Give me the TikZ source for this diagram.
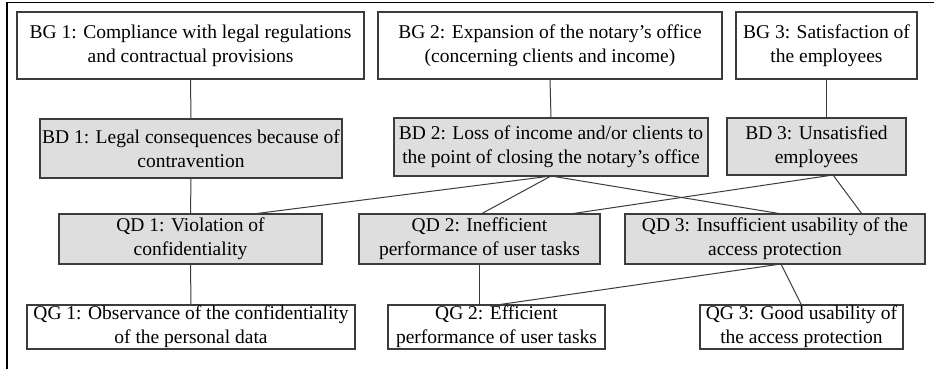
\documentclass[tikz,border=0pt]{standalone}
\usepackage{fontspec}
\setmainfont{Liberation Serif}
\usetikzlibrary{calc}
\definecolor{boxline}{HTML}{3C3C3C}
\definecolor{boxfill}{HTML}{DEDEDE}
\begin{document}
\begin{tikzpicture}[x=1pt,y=-1pt,
  every node/.style={inner sep=0pt,outer sep=0pt,align=center,
    font=\fontsize{19.5pt}{24pt}\selectfont},
  goal/.style={draw=boxline,line width=1.1pt,fill=white},
  damage/.style={draw=boxline,line width=1.1pt,fill=boxfill},
  link/.style={draw=boxline,line width=1pt}]
\useasboundingbox (0,0) rectangle (934,369);
\fill[white] (0,0) rectangle (934,369);
% frame
\draw[line width=1.2pt,black] (7,369) -- (7,2.5) -- (934,2.5);

% business goals
\node[goal,minimum width=347,minimum height=67] (bg1) at (190.5,45.5)
  {BG 1: Compliance with legal regulations\\and contractual provisions};
\node[goal,minimum width=344,minimum height=67] (bg2) at (550,45.5)
  {BG 2: Expansion of the notary’s office\\(concerning clients and income)};
\node[goal,minimum width=181,minimum height=67] (bg3) at (826.5,45.5)
  {BG 3: Satisfaction of\\the employees};

% business damages
\node[damage,minimum width=302,minimum height=59] (bd1) at (191,148.5)
  {BD 1: Legal consequences because of\\contravention};
\node[damage,minimum width=314,minimum height=58] (bd2) at (551,147)
  {BD 2: Loss of income and/or clients to\\the point of closing the notary’s office};
\node[damage,minimum width=179,minimum height=57] (bd3) at (816.5,146.5)
  {BD 3: Unsatisfied\\employees};

% quality damages
\node[damage,minimum width=263,minimum height=50] (qd1) at (190.5,239)
  {QD 1: Violation of\\confidentiality};
\node[damage,minimum width=241,minimum height=50] (qd2) at (479.5,239)
  {QD 2: Inefficient\\performance of user tasks};
\node[damage,minimum width=300,minimum height=50] (qd3) at (775,239)
  {QD 3: Insufficient usability of the\\access protection};

% quality goals
\node[goal,minimum width=328,minimum height=44] (qg1) at (191,327)
  {QG 1: Observance of the confidentiality\\of the personal data};
\node[goal,minimum width=217,minimum height=44] (qg2) at (496.5,327)
  {QG 2: Efficient\\performance of user tasks};
\node[goal,minimum width=203,minimum height=44] (qg3) at (801.5,327)
  {QG 3: Good usability of\\the access protection};

% connectors
\draw[link] (bg1.south) -- (bd1.north);
\draw[link] (bg2.south) -- (bd2.north);
\draw[link] (bg3.south) -- (bg3.south |- bd3.north);
\draw[link] (bd1.south) -- (qd1.north);
\draw[link] (qd1.south) -- (qg1.north);
\draw[link] (bd2.south) -- ($(qd1.north)+(62.5,0)$);
\draw[link] (bd2.south) -- ($(qd2.north)+(1.5,0)$);
\draw[link] (bd2.south) -- ($(qd3.north)+(7,0)$);
\draw[link] ($(bd3.south)+(16.5,0)$) -- ($(qd2.north)+(90.5,0)$);
\draw[link] ($(bd3.south)+(16.5,0)$) -- ($(qd3.north)+(87,0)$);
\draw[link] (qd2.south) -- (qd2.south |- qg2.north);
\draw[link] ($(qd3.south)+(6,0)$) -- (qg2.north);
\draw[link] ($(qd3.south)+(6,0)$) -- (qg3.north);
\end{tikzpicture}
\end{document}
